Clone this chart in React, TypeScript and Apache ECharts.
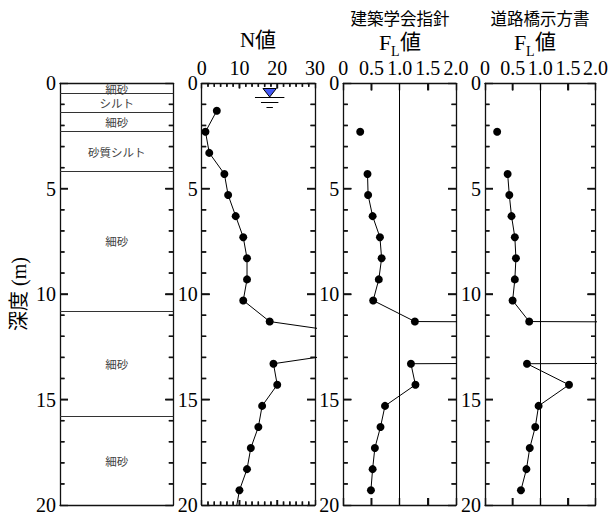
import React, { useEffect, useRef } from 'react';
import * as echarts from 'echarts';

// Soil column: layer boundaries (m) and soil names
const layerTops = [0, 0.5, 1.4, 2.3, 4.2, 10.8, 15.8];
const layerBottoms = [0.5, 1.4, 2.3, 4.2, 10.8, 15.8, 20];
const layerNames = ['細砂', 'シルト', '細砂', '砂質シルト', '細砂', '細砂', '細砂'];

// Standard penetration test: depth (m) and N-value
const nDepths = [1.3, 2.3, 3.3, 4.3, 5.3, 6.3, 7.3, 8.3, 9.3, 10.3, 11.3, 12.3, 13.3, 14.3, 15.3, 16.3, 17.3, 18.3, 19.3, 20.3];
const nValues = [4, 1, 2, 6, 7, 9, 11, 12, 12, 11, 18, 57, 19, 20, 16, 15, 13, 12, 10, 9];

// Groundwater level
const waterDepth = 0.68;
const waterN = 18;

// Liquefaction resistance factor FL (null = not evaluated, 99 = non-liquefiable layer)
const flDepths = [2.3, 3.3, 4.3, 5.3, 6.3, 7.3, 8.3, 9.3, 10.3, 11.3, 12.3, 13.3, 14.3, 15.3, 16.3, 17.3, 18.3, 19.3];
const flAij = [0.3, null, 0.43, 0.44, 0.52, 0.65, 0.68, 0.63, 0.53, 1.27, 99, 1.2, 1.28, 0.74, 0.66, 0.56, 0.52, 0.49];
const flRoad = [0.22, null, 0.41, 0.44, 0.48, 0.54, 0.56, 0.54, 0.5, 0.8, 99, 0.76, 1.52, 0.97, 0.91, 0.81, 0.75, 0.65];

const flTickLabels = ['0', '0.5', '1.0', '1.5', '2.0'];

const SERIF = '"Liberation Serif", "Noto Sans CJK JP", serif';
const CJK = '"Noto Sans CJK JP", sans-serif';

const DEPTH_MAX = 20;
const PANEL_TOP = 83.3;
const PANEL_HEIGHT = 424.4;
const panels = [
  { left: 60, width: 113.3, kind: 'soil', xMax: 1 },
  { left: 201.7, width: 113.3, kind: 'n', xMax: 30 },
  { left: 343.3, width: 112.7, kind: 'fl', xMax: 2 },
  { left: 485, width: 112.7, kind: 'fl', xMax: 2 },
];

const frame = { color: '#111', width: 1.3 };
const TICK_STYLE = { stroke: '#111', lineWidth: 1.4 };

type Tick = { side: 'left' | 'right' | 'top' | 'bottom'; v: number; len: number };

// Inward tick marks on each panel frame
function frameTicks(kind: string): Tick[] {
  const t: Tick[] = [];
  for (let d = 1; d < DEPTH_MAX; d++) {
    const len = d % 5 === 0 ? 8 : 4.5;
    t.push({ side: 'left', v: d, len }, { side: 'right', v: d, len });
  }
  if (kind === 'n') {
    for (let k = 1; k < 18; k++) {
      const len = k % 6 === 0 ? 5 : 3.5;
      const v = (k * 10) / 6;
      t.push({ side: 'top', v, len }, { side: 'bottom', v, len });
    }
  } else if (kind === 'fl') {
    [0.5, 1.5].forEach((v) => t.push({ side: 'top', v, len: 7 }, { side: 'bottom', v, len: 7 }));
  }
  return t;
}

// tick segment from a pixel converter (value -> pixel)
function tickShape(t: Tick, xMax: number, toPx: (v: number[]) => number[]) {
  if (t.side === 'left' || t.side === 'right') {
    const c = toPx([t.side === 'left' ? 0 : xMax, t.v]);
    return { x1: c[0], y1: c[1], x2: c[0] + (t.side === 'left' ? t.len : -t.len), y2: c[1] };
  }
  const c = toPx([t.v, t.side === 'top' ? 0 : DEPTH_MAX]);
  return { x1: c[0], y1: c[1], x2: c[0], y2: c[1] + (t.side === 'top' ? t.len : -t.len) };
}

const crisp = (v: number) => Math.round(v - 0.5) + 0.5;

function buildOption() {
  const grid = panels.map((p) => ({ left: p.left, top: PANEL_TOP, width: p.width, height: PANEL_HEIGHT }));
  const xAxis: any[] = [];
  const yAxis: any[] = [];
  const xMain: number[] = [];
  const yMain: number[] = [];

  panels.forEach((p, i) => {
    ['top', 'bottom'].forEach((pos) => {
      if (pos === 'top') xMain.push(xAxis.length);
      xAxis.push({
        type: 'value',
        gridIndex: i,
        position: pos,
        min: 0,
        max: p.xMax,
        interval: p.kind === 'n' ? 10 : p.kind === 'fl' ? 0.5 : 1,
        axisLine: { show: true, onZero: false, lineStyle: frame },
        axisTick: { show: p.kind !== 'soil', inside: true, length: p.kind === 'n' ? 5 : 7, lineStyle: { color: '#111', width: 1.4 } },
        splitLine: { show: false },
        axisLabel: {
          show: pos === 'top' && p.kind !== 'soil',
          margin: 5,
          fontSize: 20,
          fontFamily: SERIF,
          color: '#000',
          formatter: p.kind === 'fl' ? (v: number) => flTickLabels[Math.round(v / 0.5)] : (v: number) => String(v),
        },
      });
    });
    ['left', 'right'].forEach((pos) => {
      if (pos === 'left') yMain.push(yAxis.length);
      yAxis.push({
        type: 'value',
        gridIndex: i,
        position: pos,
        inverse: true,
        min: 0,
        max: DEPTH_MAX,
        interval: 5,
        axisLine: { show: true, onZero: false, lineStyle: frame },
        axisTick: { show: true, inside: true, length: 8, lineStyle: { color: '#111', width: 1.4 } },
        splitLine: { show: false },
        axisLabel: { show: pos === 'left', margin: 4, fontSize: 20, fontFamily: SERIF, color: '#000' },
      });
    });
  });

  const tickSeries = panels.map((p, i) => {
    const ticks = frameTicks(p.kind);
    return {
      type: 'custom',
      xAxisIndex: xMain[i],
      yAxisIndex: yMain[i],
      clip: false,
      silent: true,
      z: 3,
      data: [[p.xMax / 2, DEPTH_MAX / 2]],
      renderItem: (params: any, api: any) => ({
        type: 'group',
        children: ticks.map((t) => ({
          type: 'line',
          shape: tickShape(t, p.xMax, (v) => api.coord(v)),
          style: TICK_STYLE,
        })),
      }),
    };
  });

  const soilSeries = {
    type: 'custom',
    xAxisIndex: xMain[0],
    yAxisIndex: yMain[0],
    clip: false,
    silent: true,
    data: layerNames.map((_, i) => [0.5, (layerTops[i] + layerBottoms[i]) / 2]),
    renderItem: (params: any, api: any) => {
      const i = params.dataIndex;
      const tl = api.coord([0, layerTops[i]]);
      const br = api.coord([1, layerBottoms[i]]);
      const children: any[] = [];
      if (layerBottoms[i] < DEPTH_MAX) {
        const y = crisp(br[1]);
        children.push({
          type: 'line',
          shape: { x1: tl[0], y1: y, x2: br[0], y2: y },
          style: { stroke: '#333', lineWidth: 1.2 },
        });
      }
      children.push({
        type: 'text',
        x: (tl[0] + br[0]) / 2,
        y: (tl[1] + br[1]) / 2,
        style: {
          text: layerNames[i],
          fill: '#444',
          fontSize: 11.5,
          lineHeight: 11,
          fontFamily: CJK,
          align: 'center',
          verticalAlign: 'middle',
        },
      });
      return { type: 'group', children };
    },
  };

  const waterSeries = {
    type: 'custom',
    xAxisIndex: xMain[1],
    yAxisIndex: yMain[1],
    clip: false,
    silent: true,
    data: [[waterN, waterDepth]],
    renderItem: (params: any, api: any) => {
      const c = api.coord([api.value(0), api.value(1)]);
      const cx = c[0];
      const cy = crisp(c[1]);
      return {
        type: 'group',
        children: [
          {
            type: 'polygon',
            shape: { points: [[cx - 6.7, cy - 9], [cx + 6.7, cy - 9], [cx, cy - 0.5]] },
            style: { fill: '#4257f5', stroke: '#000', lineWidth: 1 },
          },
          { type: 'line', shape: { x1: cx - 14.7, y1: cy, x2: cx + 14.7, y2: cy }, style: { stroke: '#000', lineWidth: 1 } },
          { type: 'line', shape: { x1: cx - 8.7, y1: cy + 5, x2: cx + 8.7, y2: cy + 5 }, style: { stroke: '#000', lineWidth: 1 } },
          { type: 'line', shape: { x1: cx - 3.2, y1: cy + 10, x2: cx + 3.2, y2: cy + 10 }, style: { stroke: '#000', lineWidth: 1 } },
        ],
      };
    },
  };

  const pointLine = (panel: number, data: any[]) => ({
    type: 'line',
    xAxisIndex: xMain[panel],
    yAxisIndex: yMain[panel],
    data,
    clip: true,
    connectNulls: false,
    symbol: 'circle',
    symbolSize: 8,
    showAllSymbol: true,
    z: 4,
    itemStyle: { color: '#000' },
    lineStyle: { color: '#000', width: 1 },
    silent: true,
  });

  const flLine = (panel: number, values: (number | null)[]) => ({
    ...pointLine(
      panel,
      flDepths.map((d, i) => [values[i] == null ? '-' : values[i], d])
    ),
    markLine: {
      silent: true,
      symbol: ['none', 'none'],
      label: { show: false },
      lineStyle: { color: '#000', width: 1, type: 'solid' },
      data: [{ xAxis: 1 }],
    },
  });

  const flTitle = (cx: number) => ({
    type: 'group',
    x: cx - 22,
    y: 42,
    children: [
      { type: 'text', x: 0, y: 0, style: { text: 'F', fontSize: 22, fontFamily: SERIF, fill: '#000', align: 'left', verticalAlign: 'middle' } },
      { type: 'text', x: 12, y: 9, style: { text: 'L', fontSize: 14, fontFamily: SERIF, fill: '#000', align: 'left', verticalAlign: 'middle' } },
      { type: 'text', x: 21, y: 0, style: { text: '値', fontSize: 21, fontFamily: SERIF, fill: '#000', align: 'left', verticalAlign: 'middle' } },
    ],
  });

  const titles = [
    { type: 'text', x: 258, y: 40, style: { text: 'N値', fontSize: 21, fontFamily: SERIF, fill: '#000', align: 'center', verticalAlign: 'middle' } },
    { type: 'text', x: 400, y: 18, style: { text: '建築学会指針', fontSize: 16.5, fontFamily: CJK, fill: '#000', align: 'center', verticalAlign: 'middle' } },
    flTitle(401),
    { type: 'text', x: 540, y: 18, style: { text: '道路橋示方書', fontSize: 16.5, fontFamily: CJK, fill: '#000', align: 'center', verticalAlign: 'middle' } },
    flTitle(536),
    {
      type: 'text',
      x: 19,
      y: 294,
      rotation: Math.PI / 2,
      style: { text: '深度 (m)', fontSize: 20, fontFamily: SERIF, fill: '#000', align: 'center', verticalAlign: 'middle' },
    },
  ];

  const option = {
    animation: false,
    backgroundColor: '#fff',
    grid,
    xAxis,
    yAxis,
    series: [
      soilSeries,
      ...tickSeries,
      pointLine(1, nDepths.map((d, i) => [nValues[i], d])),
      waterSeries,
      flLine(2, flAij),
      flLine(3, flRoad),
    ],
    graphic: titles,
  };
  return { option, titles, xMain, yMain };
}

export default function App() {
  const ref = useRef<HTMLDivElement>(null);
  useEffect(() => {
    if (!ref.current) return;
    const chart = echarts.init(ref.current, undefined, { renderer: 'svg' });
    const { option, titles, xMain, yMain } = buildOption();
    chart.setOption(option as any);

    // frame ticks as graphic lines, positioned through each panel's axes
    const tickLines: any[] = [];
    panels.forEach((p, i) => {
      const finder = { xAxisIndex: xMain[i], yAxisIndex: yMain[i] };
      frameTicks(p.kind).forEach((t) => {
        const shape = tickShape(t, p.xMax, (v) => chart.convertToPixel(finder as any, v) as number[]);
        if ([shape.x1, shape.y1, shape.x2, shape.y2].every((n) => Number.isFinite(n))) {
          tickLines.push({ type: 'line', silent: true, z: 100, shape, style: TICK_STYLE });
        }
      });
    });
    chart.setOption({ graphic: [...titles, ...tickLines] } as any);

    return () => chart.dispose();
  }, []);
  return (
    <div
      ref={ref}
      style={{ position: 'absolute', left: 0, top: 0, width: 611, height: 515, background: '#fff' }}
    />
  );
}
